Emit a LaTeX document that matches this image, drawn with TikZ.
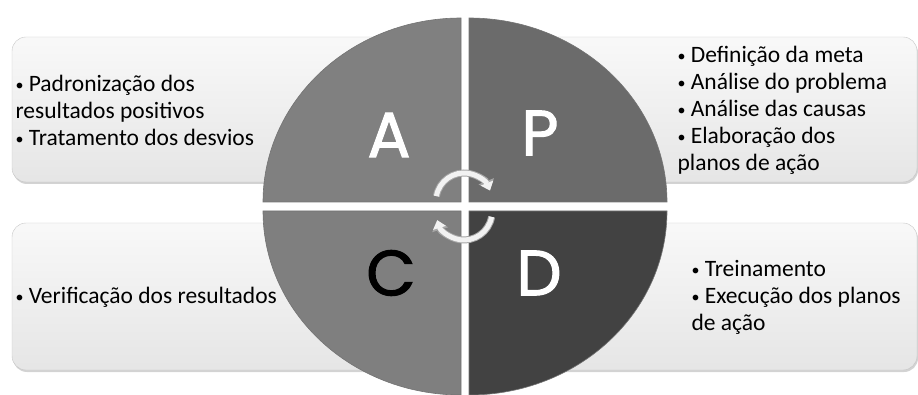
\documentclass[tikz,border=0pt]{standalone}
\usepackage{fontspec}
\setmainfont{Carlito}
\newfontfamily\letterfont{Poppins}[FakeBold=1.6]
\usetikzlibrary{arrows.meta,shadows}
\definecolor{quadA}{HTML}{808080}
\definecolor{quadP}{HTML}{6B6B6B}
\definecolor{quadC}{HTML}{7F7F7F}
\definecolor{quadD}{HTML}{424242}
\newcommand{\bul}{{\fontsize{16}{16}\selectfont\raisebox{1pt}{•}}\ }

\begin{document}
\begin{tikzpicture}[x=1pt,y=1pt]
        \tikzset{infobox/.style={rounded corners=14pt, draw=gray!45, top color=gray!5, bottom color=gray!20,
                drop shadow={shadow xshift=1pt, shadow yshift=-2pt, opacity=0.35}}}
        \tikzset{quad/.style={draw=black!55, line width=0.6pt}}
        \tikzset{bigletter/.style={font=\letterfont\fontsize{64}{64}\selectfont}}
        \tikzset{itemtext/.style={anchor=west, align=left, font=\fontsize{23.5}{27}\selectfont}}
        \useasboundingbox (0,0) rectangle (918,394);
        % boxes behind the circle
        \draw[infobox] (12,212) rectangle (460,357);
        \draw[infobox] (470,212) rectangle (917,357);
        \draw[infobox] (12,24) rectangle (460,171);
        \draw[infobox] (470,24) rectangle (917,171);
        
        \node[itemtext] (actText) at (12,284) {\bul Padronização dos\\resultados positivos\\\bul Tratamento dos desvios};
        \node[itemtext] (planText) at (674,284) {\bul Definição da meta\\\bul Análise do problema\\\bul Análise das causas\\\bul Elaboração dos\\planos de ação};
        \node[itemtext] (checkText) at (12,97) {\bul Verificação dos resultados};
        \node[itemtext] (doText) at (688,97) {\bul Treinamento\\\bul Execução dos planos\\de ação};
        
        % the four quarters
        \draw[quad, fill=quadA] (461,192) -- ++(-198,0) arc [start angle=180, end angle=90, x radius=198, y radius=184] -- cycle;
        \draw[quad, fill=quadP] (469,192) -- ++(0,184) arc [start angle=90, end angle=0, x radius=198, y radius=184] -- cycle;
        \draw[quad, fill=quadC] (461,183) -- ++(0,-184) arc [start angle=270, end angle=180, x radius=198, y radius=184] -- cycle;
        \draw[quad, fill=quadD] (469,183) -- ++(198,0) arc [start angle=0, end angle=-90, x radius=198, y radius=184] -- cycle;
        
        \node[bigletter, white] (letterA) at (389,259) {A};
        \node[bigletter, white] (letterP) at (540,261) {P};
        \node[bigletter, black] (letterC) at (391,121) {C};
        \node[bigletter, white] (letterD) at (539,121) {D};
        
        % cycle arrows
        \begin{scope}
            \draw[line width=7pt, gray!70, -{Triangle[length=10pt, width=16pt]}] (464,193) ++(170:28) arc [start angle=170, end angle=22, radius=28];
            \draw[line width=5pt, white!90!gray, -{Triangle[length=8pt, width=13pt]}] (464,193) ++(170:28) arc [start angle=170, end angle=22, radius=28];
            \draw[line width=7pt, gray!70, -{Triangle[length=10pt, width=16pt]}] (464,182) ++(-10:28) arc [start angle=-10, end angle=-163, radius=28];
            \draw[line width=5pt, white!90!gray, -{Triangle[length=8pt, width=13pt]}] (464,182) ++(-10:28) arc [start angle=-10, end angle=-163, radius=28];
        \end{scope}
\end{tikzpicture}
\end{document}
